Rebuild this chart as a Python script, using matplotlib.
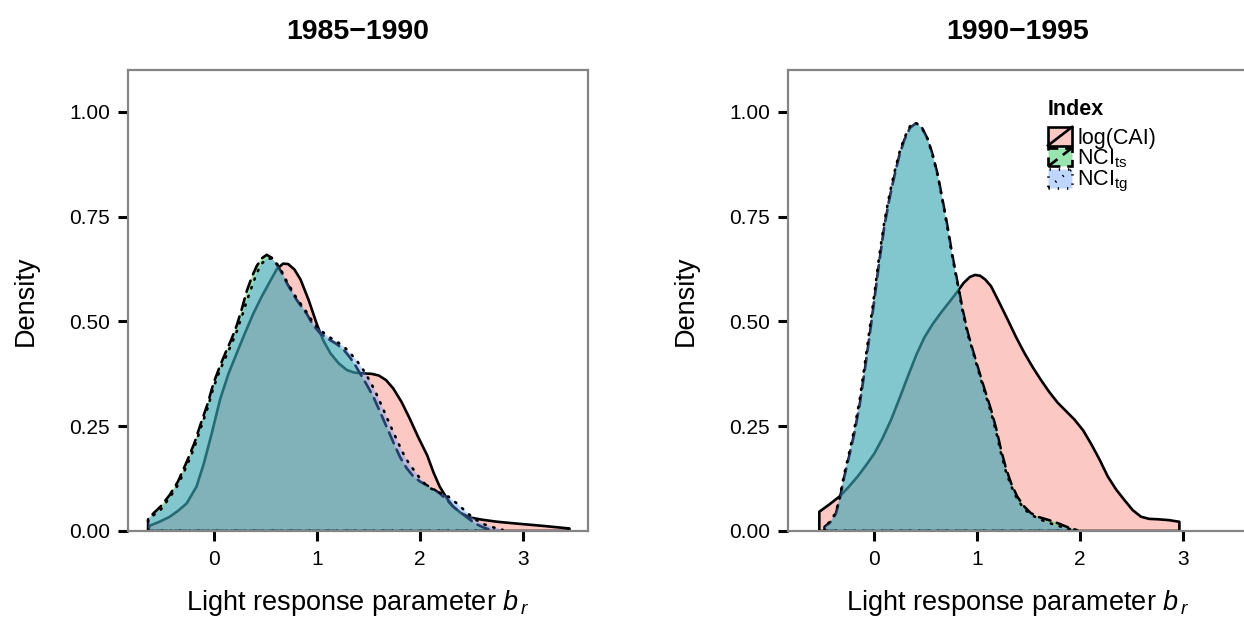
import matplotlib
matplotlib.use("Agg")
import matplotlib.pyplot as plt
from matplotlib.legend_handler import HandlerBase
from matplotlib.patches import Rectangle
from matplotlib.lines import Line2D
from matplotlib.colors import to_rgba

plt.rcParams["font.family"] = ["Liberation Sans", "DejaVu Sans"]
plt.rcParams["mathtext.fontset"] = "custom"
plt.rcParams["mathtext.rm"] = "Liberation Sans"
plt.rcParams["mathtext.it"] = "Liberation Sans:italic"

# ---- data: kernel density estimates of b_r per index ----
titles = ["1985\u22121990", "1990\u22121995"]
index_labels = ["log(CAI)", r"NCI$_{\mathregular{ts}}$", r"NCI$_{\mathregular{tg}}$"]

# 1985-1990
cai_85_x = [-0.63, -0.53, -0.43, -0.35, -0.265, -0.17, -0.10, -0.02, 0.06, 0.14, 0.22, 0.30, 0.38,
            0.46, 0.54, 0.61, 0.67, 0.72, 0.78, 0.84, 0.92, 1.00, 1.06, 1.13, 1.21, 1.29, 1.36,
            1.45, 1.53, 1.60, 1.67, 1.74, 1.82, 1.90, 1.98, 2.07, 2.13, 2.19, 2.26, 2.32, 2.40,
            2.49, 2.60, 2.75, 2.97, 3.20, 3.45]
cai_85_d = [0.012, 0.022, 0.034, 0.048, 0.066, 0.106, 0.160, 0.235, 0.315, 0.375, 0.424, 0.472, 0.518,
            0.558, 0.594, 0.625, 0.638, 0.637, 0.624, 0.600, 0.550, 0.492, 0.455, 0.424, 0.400, 0.384, 0.378,
            0.376, 0.375, 0.371, 0.360, 0.340, 0.308, 0.268, 0.225, 0.180, 0.140, 0.106, 0.078, 0.058, 0.042,
            0.032, 0.027, 0.022, 0.017, 0.012, 0.006]
ts_85_x = [-0.64, -0.52, -0.43, -0.35, -0.265, -0.19, -0.13, -0.06, -0.006, 0.06, 0.123, 0.17, 0.22,
           0.27, 0.317, 0.37, 0.414, 0.46, 0.511, 0.56, 0.608, 0.66, 0.705, 0.80, 0.899, 0.96, 1.029,
           1.11, 1.191, 1.26, 1.32, 1.37, 1.417, 1.48, 1.547, 1.61, 1.676, 1.74, 1.806, 1.87, 1.935,
           2.00, 2.065, 2.13, 2.194, 2.26, 2.323, 2.39, 2.453, 2.50, 2.55, 2.61, 2.68]
ts_85_d = [0.030, 0.058, 0.086, 0.118, 0.165, 0.210, 0.255, 0.305, 0.352, 0.395, 0.432, 0.458, 0.490,
           0.530, 0.572, 0.608, 0.632, 0.650, 0.659, 0.652, 0.636, 0.615, 0.592, 0.552, 0.518, 0.492, 0.472,
           0.458, 0.446, 0.432, 0.414, 0.396, 0.376, 0.350, 0.320, 0.285, 0.248, 0.212, 0.176, 0.150, 0.130,
           0.118, 0.109, 0.100, 0.089, 0.074, 0.058, 0.045, 0.033, 0.024, 0.016, 0.009, 0.003]
tg_85_x = [-0.64, -0.52, -0.43, -0.35, -0.265, -0.19, -0.13, -0.06, -0.006, 0.06, 0.123, 0.17, 0.22,
           0.27, 0.317, 0.37, 0.414, 0.46, 0.51, 0.56, 0.62, 0.66, 0.705, 0.80, 0.899, 0.96, 1.029,
           1.11, 1.191, 1.26, 1.32, 1.39, 1.45, 1.52, 1.58, 1.64, 1.70, 1.77, 1.83, 1.89, 1.95,
           2.01, 2.065, 2.13, 2.194, 2.275, 2.356, 2.437, 2.52, 2.61, 2.72, 2.80]
tg_85_d = [0.028, 0.050, 0.080, 0.110, 0.155, 0.200, 0.245, 0.295, 0.342, 0.385, 0.420, 0.446, 0.476,
           0.512, 0.548, 0.585, 0.615, 0.637, 0.650, 0.650, 0.635, 0.618, 0.596, 0.556, 0.522, 0.498, 0.480,
           0.464, 0.452, 0.440, 0.425, 0.405, 0.384, 0.355, 0.325, 0.292, 0.258, 0.220, 0.188, 0.162, 0.142,
           0.122, 0.108, 0.098, 0.091, 0.082, 0.066, 0.048, 0.030, 0.017, 0.008, 0.003]

# 1990-1995
cai_90_x = [-0.531, -0.43, -0.337, -0.25, -0.159, -0.08, 0.003, 0.08, 0.165, 0.245, 0.327, 0.41,
            0.489, 0.57, 0.650, 0.73, 0.812, 0.87, 0.93, 0.98, 1.03, 1.08, 1.136, 1.21, 1.298, 1.38,
            1.459, 1.54, 1.621, 1.70, 1.783, 1.86, 1.945, 2.03, 2.107, 2.19, 2.269, 2.35, 2.430, 2.51,
            2.592, 2.67, 2.754, 2.86, 2.964]
cai_90_d = [0.046, 0.064, 0.082, 0.104, 0.130, 0.156, 0.185, 0.220, 0.265, 0.315, 0.368, 0.420,
            0.462, 0.494, 0.521, 0.546, 0.572, 0.592, 0.606, 0.611, 0.609, 0.600, 0.584, 0.548, 0.504, 0.462,
            0.425, 0.391, 0.360, 0.332, 0.306, 0.287, 0.266, 0.240, 0.208, 0.170, 0.130, 0.099, 0.074, 0.050,
            0.034, 0.029, 0.028, 0.026, 0.022]
ts_90_x = [-0.48, -0.42, -0.369, -0.33, -0.288, -0.24, -0.191, -0.14, -0.094, -0.045, 0.003, 0.05,
           0.100, 0.15, 0.197, 0.245, 0.294, 0.35, 0.408, 0.465, 0.521, 0.57, 0.618, 0.665, 0.715, 0.76,
           0.812, 0.86, 0.909, 0.96, 1.006, 1.07, 1.136, 1.19, 1.233, 1.28, 1.330, 1.39, 1.459, 1.52,
           1.589, 1.67, 1.750, 1.82, 1.880, 1.97]
ts_90_d = [0.010, 0.022, 0.042, 0.080, 0.130, 0.180, 0.233, 0.300, 0.376, 0.462, 0.551, 0.640,
           0.726, 0.793, 0.846, 0.895, 0.933, 0.962, 0.973, 0.962, 0.935, 0.897, 0.850, 0.790, 0.724, 0.658,
           0.591, 0.528, 0.474, 0.430, 0.392, 0.340, 0.289, 0.240, 0.193, 0.150, 0.114, 0.082, 0.058, 0.043,
           0.034, 0.028, 0.022, 0.015, 0.009, 0.002]
tg_90_x = [-0.48, -0.42, -0.37, -0.33, -0.29, -0.24, -0.19, -0.14, -0.094, -0.045, 0.003, 0.05,
           0.10, 0.15, 0.197, 0.245, 0.294, 0.35, 0.40, 0.465, 0.521, 0.57, 0.618, 0.665, 0.715, 0.76,
           0.812, 0.86, 0.909, 0.96, 1.006, 1.07, 1.136, 1.19, 1.233, 1.28, 1.33, 1.39, 1.459, 1.52,
           1.589, 1.67, 1.75, 1.82, 1.88, 1.97]
tg_90_d = [0.010, 0.024, 0.045, 0.085, 0.135, 0.188, 0.245, 0.312, 0.390, 0.478, 0.565, 0.655,
           0.738, 0.803, 0.855, 0.902, 0.938, 0.966, 0.975, 0.962, 0.935, 0.895, 0.848, 0.788, 0.720, 0.655,
           0.588, 0.525, 0.470, 0.428, 0.388, 0.335, 0.283, 0.232, 0.185, 0.142, 0.108, 0.076, 0.052, 0.040,
           0.030, 0.022, 0.015, 0.010, 0.006, 0.001]

panels = [
    [(cai_85_x, cai_85_d), (ts_85_x, ts_85_d), (tg_85_x, tg_85_d)],
    [(cai_90_x, cai_90_d), (ts_90_x, ts_90_d), (tg_90_x, tg_90_d)],
]

x_ticks = [0, 1, 2, 3]
y_ticks = [0.00, 0.25, 0.50, 0.75, 1.00]
y_tick_labels = ["0.00", "0.25", "0.50", "0.75", "1.00"]

# ---- styles ----
fill_colors = ["#F8766D", "#00BA38", "#619CFF"]
line_styles = ["solid", (0, (4.5, 2.6)), (0, (0.5, 3.0))]
fill_alpha = 0.4
lw = 1.9
spine_gray = "#858585"


class KeyStyle:
    def __init__(self, color, ls):
        self.color = color
        self.ls = ls


class DensityKeyHandler(HandlerBase):
    def create_artists(self, legend, orig_handle, xdescent, ydescent, width, height,
                       fontsize, trans):
        x0, y0 = -xdescent, -ydescent
        box = Rectangle((x0, y0), width, height,
                        facecolor=to_rgba(orig_handle.color, fill_alpha),
                        edgecolor="black", linestyle=orig_handle.ls, linewidth=lw,
                        transform=trans)
        diag = Line2D([x0, x0 + width], [y0, y0 + height], color="black",
                      linestyle=orig_handle.ls, linewidth=lw, transform=trans)
        return [box, diag]


W, H = 1244, 621
fig = plt.figure(figsize=(W / 100, H / 100), dpi=100)

ax_left_px = [128, 788]
ax_w_px, top_px, bot_px = 460, 70, 531

axes = []
for i, (lp, title) in enumerate(zip(ax_left_px, titles)):
    ax = fig.add_axes([lp / W, (H - bot_px) / H, ax_w_px / W, (bot_px - top_px) / H])
    axes.append(ax)
    for (xs, ds), c, ls in zip(panels[i], fill_colors, line_styles):
        px = [xs[0]] + list(xs) + [xs[-1]]
        py = [0.0] + list(ds) + [0.0]
        ax.fill(px, py, facecolor=to_rgba(c, fill_alpha), edgecolor="black",
                linestyle=ls, linewidth=lw, joinstyle="round", capstyle="round")
    ax.set_xlim(-0.835, 3.63)
    ax.set_ylim(0, 1.10)
    ax.set_xticks(x_ticks)
    ax.set_xticklabels([str(t) for t in x_ticks])
    ax.set_yticks(y_ticks)
    ax.set_yticklabels(y_tick_labels)
    ax.tick_params(axis="both", direction="out", length=7, width=2.2, color="black",
                   labelsize=15, labelcolor="black")
    ax.tick_params(axis="y", pad=6)
    ax.tick_params(axis="x", pad=7)
    for sp in ax.spines.values():
        sp.set_color(spine_gray)
        sp.set_linewidth(1.6)
    ax.set_xlabel(r"Light response parameter $b_{\,r}$", fontsize=19.5, labelpad=13)
    ax.set_ylabel("Density", fontsize=19.5, labelpad=22)
    ax.set_title(title, fontsize=20.5, fontweight="bold", pad=22)

handles = [KeyStyle(c, ls) for c, ls in zip(fill_colors, line_styles)]
leg = axes[1].legend(handles, index_labels, handler_map={KeyStyle: DensityKeyHandler()},
                     title="Index", loc="upper left",
                     bbox_to_anchor=(1048 / W, (H - 99) / H), bbox_transform=fig.transFigure,
                     frameon=False, fontsize=15.5, handlelength=1.12, handleheight=0.95,
                     handletextpad=0.25, labelspacing=-0.05, borderpad=0.0,
                     borderaxespad=0.0, alignment="left")
leg.get_title().set_fontweight("bold")
leg.get_title().set_fontsize(15.5)
leg._legend_box.sep = 5

fig.savefig("out.png", dpi=100)
